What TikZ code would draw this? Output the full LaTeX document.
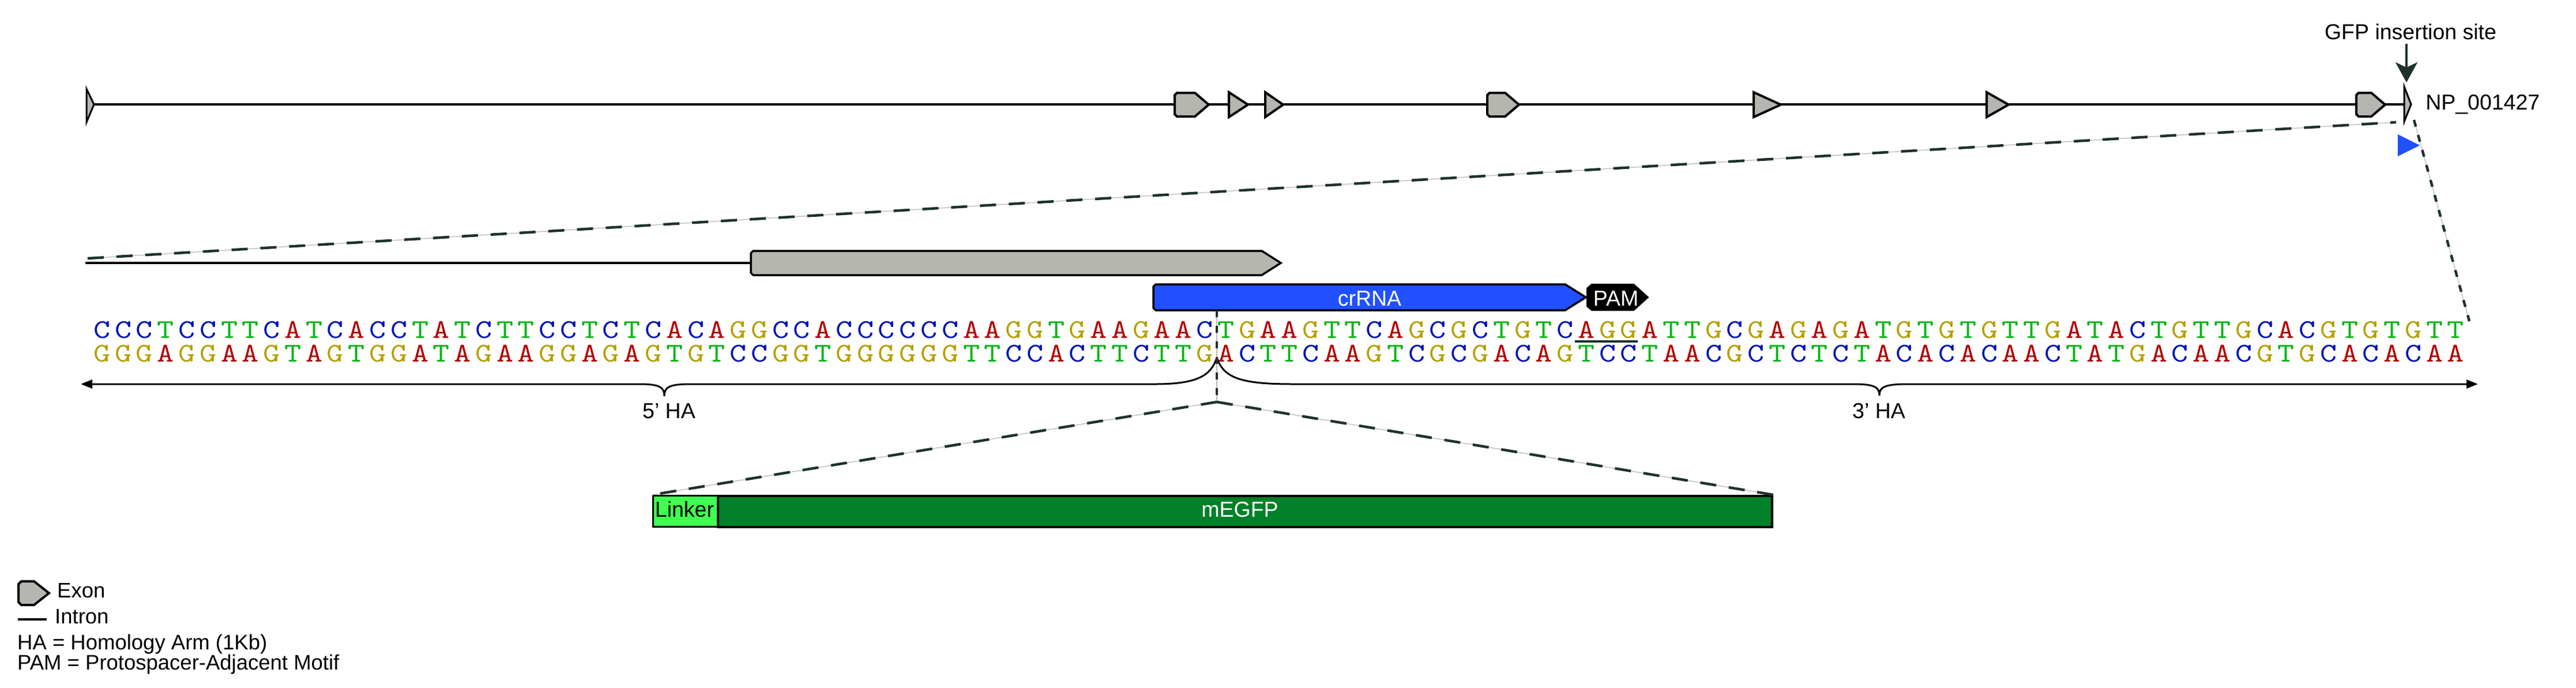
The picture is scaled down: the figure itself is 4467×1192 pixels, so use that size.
\documentclass[tikz,border=0pt]{standalone}
\usepackage{fontspec}
\setmainfont{Liberation Sans}
\newfontfamily\seqfont[FakeStretch=1.18]{lmmono10-regular.otf}
\usetikzlibrary{arrows.meta}
\definecolor{baseA}{RGB}{180,0,0}
\definecolor{baseC}{RGB}{0,20,180}
\definecolor{baseG}{RGB}{180,160,0}
\definecolor{baseT}{RGB}{0,180,20}
\definecolor{exongray}{RGB}{182,182,176}
\definecolor{crblue}{RGB}{32,80,255}
\definecolor{linkgreen}{RGB}{64,255,80}
\definecolor{gfpgreen}{RGB}{0,128,40}
\definecolor{dashdark}{RGB}{30,50,45}
\definecolor{shadowgray}{RGB}{185,185,185}
\newcommand{\drawExonPent}[4]{% x1, x2, ytop, ybottom
  \draw[exonshape] ({#1+4},#3) -- ({#2-24},#3) -- (#2,{(#3+#4)/2}) -- ({#2-24},#4) -- ({#1+4},#4) -- (#1,{#4-4}) -- (#1,{#3+4}) -- cycle;}
\newcommand{\drawExonTri}[2]{% x1, x2
  \draw[exonshape] (#1,160) -- (#2,181.5) -- (#1,203) -- cycle;}
\begin{document}
\begin{tikzpicture}[x=1pt,y=-1pt,
  lbl/.style={font=\fontsize{37.5}{45}\selectfont, inner sep=0pt},
  legtxt/.style={font=\fontsize{36.5}{44}\selectfont, inner sep=0pt, anchor=base west},
  seq/.style={font=\seqfont\fontsize{47}{50}\selectfont, inner sep=0pt, anchor=base},
  exonshape/.style={draw=black, line width=4pt, fill=exongray, line join=miter},
  genebar/.style={draw=black, line width=4pt},
  projlong/.style={draw=dashdark, line width=4.5pt, dash pattern=on 28pt off 22pt,
     preaction={draw=shadowgray, line width=1.3pt, solid}},
  projshort/.style={draw=dashdark, line width=4.5pt, dash pattern=on 12pt off 15pt,
     preaction={draw=shadowgray, line width=1.3pt, solid}},
  bracket/.style={draw=black, line width=3pt}
]
\useasboundingbox (0,0) rectangle (4467,1192);

% ---------------- top gene model ----------------
\coordinate (genestart) at (150,181);
\coordinate (geneend) at (4169,181);
\draw[genebar] (genestart) -- (geneend);
\draw[exonshape, line width=3pt] (150,154) -- (163,181) -- (150,212) -- cycle;
\drawExonPent{2037}{2096}{161}{202}
\drawExonTri{2131}{2164}
\drawExonTri{2194}{2225}
\drawExonPent{2579}{2634}{161}{202}
\drawExonTri{3041}{3088}
\drawExonTri{3445}{3483}
\drawExonPent{4086}{4136}{161}{202}
\draw[exonshape, line width=3pt] (4169,150) -- (4181,181) -- (4169,211) -- cycle;
\node[lbl, anchor=base west] (np) at (4206,190) {NP\_001427};
\node[lbl, anchor=base] (gfp) at (4180,68) {GFP insertion site};
\coordinate (gfptop) at (4173,76);
\coordinate (gfpsite) at (4173,143);
\draw[dashdark, line width=4pt, -{Stealth[length=35pt,width=38pt,inset=9pt]}] (gfptop) -- (gfpsite);
\fill[crblue] (4158,233) -- (4196,252) -- (4158,271) -- cycle;

% projection lines
\coordinate (p1) at (152,448);
\coordinate (p2) at (4155,212);
\coordinate (p3) at (4186,208);
\coordinate (p4) at (4282,557);
\draw[projlong] (p1) -- (p2);
\draw[projshort] (p3) -- (p4);

% ---------------- zoomed region ----------------
\coordinate (midstart) at (148,456);
\coordinate (midend) at (1302,456);
\draw[genebar] (midstart) -- (midend);
\draw[exonshape, line width=3.5pt] (1306,435) -- (2188,435) -- (2221,456) -- (2188,477) -- (1306,477) -- (1302,473) -- (1302,439) -- cycle;

% crRNA and PAM
\draw[draw=black, line width=3.5pt, fill=crblue] (2004,493) -- (2714,493) -- (2750,515.5) -- (2714,538) -- (2004,538) -- (2000,534) -- (2000,497) -- cycle;
\node[lbl, anchor=base, text=white] (crtxt) at (2375,530) {crRNA};
\draw[draw=black, line width=2pt, fill=black] (2760,493) -- (2833,493) -- (2858,515.5) -- (2833,538) -- (2760,538) -- (2752,531) -- (2752,500) -- cycle;
\node[lbl, anchor=base, text=white] (pamtxt) at (2802,530) {PAM};

% sequence
\foreach \b [count=\i from 0] in {C,C,C,T,C,C,T,T,C,A,T,C,A,C,C,T,A,T,C,T,T,C,C,T,C,T,C,A,C,A,G,G,C,C,A,C,C,C,C,C,C,A,A,G,G,T,G,A,A,G,A,A,C,T,G,A,A,G,T,T,C,A,G,C,G,C,T,G,T,C,A,G,G,A,T,T,G,C,G,A,G,A,G,A,T,G,T,G,T,G,T,T,G,A,T,A,C,T,G,T,T,G,C,A,C,G,T,G,T,G,T,T}
  \node[seq, text=base\b] (t\i) at ({177+36.77*\i},586) {\b};
\foreach \b [count=\i from 0] in {G,G,G,A,G,G,A,A,G,T,A,G,T,G,G,A,T,A,G,A,A,G,G,A,G,A,G,T,G,T,C,C,G,G,T,G,G,G,G,G,G,T,T,C,C,A,C,T,T,C,T,T,G,A,C,T,T,C,A,A,G,T,C,G,C,G,A,C,A,G,T,C,C,T,A,A,C,G,C,T,C,T,C,T,A,C,A,C,A,C,A,A,C,T,A,T,G,A,C,A,A,C,G,T,G,C,A,C,A,C,A,A}
  \node[seq, text=base\b] (b\i) at ({177+36.77*\i},627) {\b};
% PAM underline
\draw[dashdark, line width=3.5pt] (2731,592) -- (2840,592);

% homology arm arrow with braces
\coordinate (leftend) at (140,666);
\coordinate (rightend) at (4297,666);
\coordinate (cut) at (2110,620);
\draw[bracket, {Triangle[length=20pt,width=15pt]}-] (leftend) -- (1109,666) .. controls (1145,666) and (1152,672) .. (1152,687)
   .. controls (1152,672) and (1159,666) .. (1197,666) -- (2003,666)
   .. controls (2075,666) and (2100,652) .. (cut);
\draw[bracket, -{Triangle[length=20pt,width=15pt]}] (cut) .. controls (2122,655) and (2150,666) .. (2242,666) -- (3214,666)
   .. controls (3252,666) and (3259,672) .. (3259,686)
   .. controls (3259,672) and (3266,666) .. (3308,666) -- (rightend);
\node[lbl, anchor=base] (ha5) at (1160,725) {5’ HA};
\node[lbl, anchor=base] (ha3) at (3258,725) {3’ HA};

% insertion
\coordinate (crbot) at (2110,538);
\coordinate (apex) at (2110,697);
\draw[projshort] (crbot) -- (apex);
\node[draw=black, line width=3pt, fill=linkgreen, minimum width=112pt, minimum height=54pt, inner sep=0pt, anchor=north west] (linker) at (1131,858) {};
\node[draw=black, line width=4pt, fill=gfpgreen, minimum width=1828pt, minimum height=54pt, inner sep=0pt, anchor=north west] (gfpbox) at (1243,858) {};
\node[lbl, anchor=base] (linkertxt) at (1187,896) {Linker};
\node[lbl, anchor=base, text=white] (gfptxt) at (2150,896) {mEGFP};
\draw[projlong] (apex) -- (linker.north west);
\draw[projlong] (apex) -- (gfpbox.north east);

% ---------------- legend ----------------
\draw[exonshape] (37,1008) -- (59,1008) -- (85,1028.5) -- (59,1049) -- (37,1049) -- (32,1044) -- (32,1013) -- cycle;
\node[legtxt] (legexon) at (99,1036) {Exon};
\coordinate (intA) at (31,1074);
\coordinate (intB) at (81,1074);
\draw[genebar, line width=3.5pt] (intA) -- (intB);
\node[legtxt] (legintron) at (95,1081) {Intron};
\node[legtxt] (legha) at (30,1126) {HA = Homology Arm (1Kb)};
\node[legtxt] (legpam) at (30,1161) {PAM = Protospacer-Adjacent Motif};
\end{tikzpicture}
\end{document}
